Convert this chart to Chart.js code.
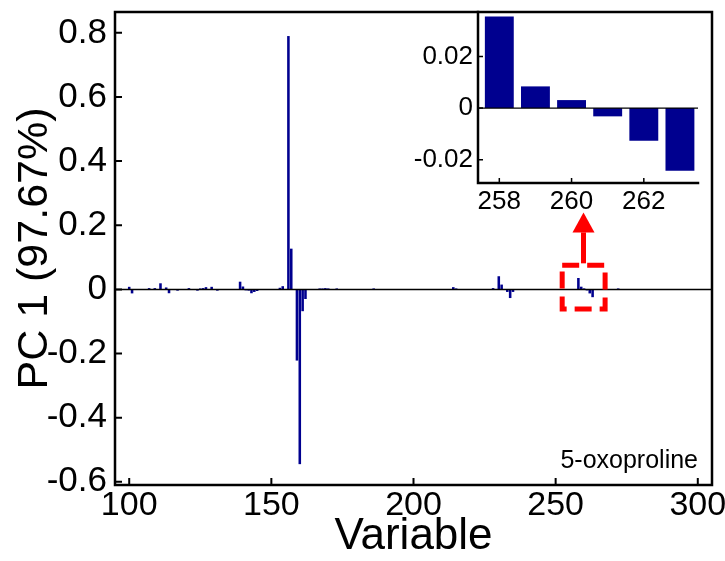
<!DOCTYPE html>
<html><head><meta charset="utf-8">
<script src="https://cdn.jsdelivr.net/npm/chart.js@4.4.0/dist/chart.umd.min.js"></script>
<style>
html,body{margin:0;padding:0;background:#fff;}
#wrap{position:relative;width:725px;height:561px;overflow:hidden;}
#main{position:absolute;left:0;top:0;}
#inset{position:absolute;left:400px;top:0;}
</style></head><body>
<div id="wrap"><canvas id="main" width="725" height="561"></canvas><canvas id="inset" width="312" height="215"></canvas></div>
<script>
// ---- data ----
const variables = [100,101,107,109,111,113,114,117,121,124,125,126,127,129,131,139,140,141,142,143,144,145,153,154,156,157,159,160,161,162,167,168,169,170,173,186,214,215,228,230,231,233,234,235,258,259,260,261,262,263,272];
const loadings  = [0.008,-0.0125,0.004,0.004,0.019,0.006,-0.012,-0.004,0.004,-0.004,0.003,0.004,0.007,0.008,-0.004,0.024,0.009,-0.003,-0.004,-0.012,-0.008,-0.005,0.005,0.01,0.79,0.127,-0.222,-0.545,-0.068,-0.03,0.003,0.003,0.004,0.003,0.003,0.003,0.007,0.003,0.004,0.041,0.015,-0.008,-0.027,-0.008,0.0355,0.0084,0.0031,-0.0032,-0.0126,-0.0243,0.003];
const xTicks = [100,150,200,250,300];
const yTicks = [-0.6,-0.4,-0.2,0,0.2,0.4,0.6,0.8];
const yTickLabels = ['-0.6','-0.4','-0.2','0','0.2','0.4','0.6','0.8'];
const insetVariables = [258,259,260,261,262,263];
const insetLoadings  = [0.0355,0.0084,0.0031,-0.0032,-0.0126,-0.0243];
const insetXTicks = [258,260,262];
const insetYTicks = [-0.02,0,0.02];
const insetYTickLabels = ['-0.02','0','0.02'];
const xTitle = 'Variable';
const yTitle = 'PC 1 (97.67%)';
const noteText = '5-oxoproline';
// highlighted region (data units) and arrow tip
const highlight = {x0:252.3, x1:267.4, y0:-0.061, y1:0.075, arrowX:259.8, arrowTipY:0.24};

const FONT = "'Liberation Sans', Arial, sans-serif";
const BAR = '#00008F';

const framePlugin = {
  id:'frame',
  afterDatasetsDraw(chart, args, o){
    const {ctx, chartArea:a, scales:{x,y}} = chart;
    ctx.save();
    const z = y.getPixelForValue(0);
    ctx.strokeStyle='#000'; ctx.lineWidth=o.zw;
    ctx.beginPath(); ctx.moveTo(a.left,z); ctx.lineTo(a.right,z); ctx.stroke();
    ctx.lineWidth=o.lw; ctx.lineCap='square';
    ctx.beginPath();
    if(o.box){ ctx.rect(a.left,a.top,a.right-a.left,a.bottom-a.top); }
    else { ctx.moveTo(a.left,a.top); ctx.lineTo(a.left,a.bottom); ctx.lineTo(a.right,a.bottom); }
    ctx.stroke();
    ctx.lineWidth=o.tw; ctx.lineCap='butt';
    ctx.beginPath();
    x.ticks.forEach(t=>{const p=x.getPixelForValue(t.value); ctx.moveTo(p,a.bottom); ctx.lineTo(p,a.bottom-o.len);});
    y.ticks.forEach(t=>{const p=y.getPixelForValue(t.value); ctx.moveTo(a.left,p); ctx.lineTo(a.left+o.len,p);});
    ctx.stroke();
    ctx.restore();
  }
};

const markPlugin = {
  id:'marks',
  afterDraw(chart){
    const {ctx, chartArea:a, scales:{x,y}} = chart;
    const h = highlight;
    const L=x.getPixelForValue(h.x0), R=x.getPixelForValue(h.x1);
    const T=y.getPixelForValue(h.y1), B=y.getPixelForValue(h.y0);
    ctx.save();
    ctx.strokeStyle='#FF0000'; ctx.fillStyle='#FF0000';
    ctx.lineWidth=5; ctx.setLineDash([17,8]); ctx.lineDashOffset=0;
    ctx.strokeRect(L,T,R-L,B-T);
    ctx.setLineDash([]);
    const ax=x.getPixelForValue(h.arrowX), tip=y.getPixelForValue(h.arrowTipY);
    const headBase = tip+20;
    ctx.beginPath(); ctx.moveTo(ax,T-2); ctx.lineTo(ax,headBase); ctx.stroke();
    ctx.beginPath(); ctx.moveTo(ax,tip); ctx.lineTo(ax-11,headBase); ctx.lineTo(ax+11,headBase); ctx.closePath(); ctx.fill();
    ctx.fillStyle='#000'; ctx.font='25px '+FONT; ctx.textAlign='right'; ctx.textBaseline='alphabetic';
    ctx.fillText(noteText, a.right-14, a.bottom-17);
    ctx.restore();
  }
};

new Chart(document.getElementById('main'), {
  type:'bar',
  data:{ datasets:[{ data: variables.map((v,i)=>({x:v,y:loadings[i]})), backgroundColor:BAR, borderWidth:0, barPercentage:0.9, categoryPercentage:1 }]},
  options:{
    responsive:false, animation:false, events:[],
    layout:{padding:{left:0,top:12,right:13,bottom:0}},
    plugins:{legend:{display:false}, tooltip:{enabled:false},
      frame:{box:true, lw:2.5, tw:2, len:7, zw:1.5}},
    scales:{
      x:{type:'linear', min:95, max:305, offset:false,
        grid:{display:false, drawTicks:false}, border:{display:false},
        afterBuildTicks:s=>{s.ticks = xTicks.map(v=>({value:v}));},
        afterFit:s=>{s.height=76; s.paddingLeft=0; s.paddingRight=0;},
        ticks:{color:'#000', font:{family:FONT,size:34}, padding:0, maxRotation:0, autoSkip:false, callback:v=>String(v)},
        title:{display:true, text:xTitle, color:'#000', font:{family:FONT,size:44,lineHeight:1}, padding:{top:0,bottom:2}}
      },
      y:{type:'linear', min:-0.61, max:0.865,
        grid:{display:false, drawTicks:false}, border:{display:false},
        afterBuildTicks:s=>{s.ticks = yTicks.map(v=>({value:v}));},
        afterFit:s=>{s.width=115; s.paddingTop=0; s.paddingBottom=0;},
        ticks:{color:'#000', font:{family:FONT,size:35}, padding:8, autoSkip:false, callback:(v,i)=>yTickLabels[i]},
        title:{display:true, text:yTitle, color:'#000', font:{family:FONT,size:43,lineHeight:1}, padding:{top:14,bottom:0}}
      }
    }
  },
  plugins:[framePlugin, markPlugin]
});

new Chart(document.getElementById('inset'), {
  type:'bar',
  data:{ datasets:[{ data: insetVariables.map((v,i)=>({x:v,y:insetLoadings[i]})), backgroundColor:BAR, borderWidth:0, barPercentage:0.8, categoryPercentage:1 }]},
  options:{
    responsive:false, animation:false, events:[],
    layout:{padding:{left:0,top:12,right:14,bottom:0}},
    plugins:{legend:{display:false}, tooltip:{enabled:false},
      frame:{box:false, lw:2.5, tw:1.5, len:5, zw:1.2}},
    scales:{
      x:{type:'linear', min:257.41, max:263.5, offset:false,
        grid:{display:false, drawTicks:false}, border:{display:false},
        afterBuildTicks:s=>{s.ticks = insetXTicks.map(v=>({value:v}));},
        afterFit:s=>{s.height=32; s.paddingLeft=0; s.paddingRight=0;},
        ticks:{color:'#000', font:{family:FONT,size:26}, padding:3, maxRotation:0, autoSkip:false, callback:v=>String(v)}
      },
      y:{type:'linear', min:-0.029, max:0.0372,
        grid:{display:false, drawTicks:false}, border:{display:false},
        afterBuildTicks:s=>{s.ticks = insetYTicks.map(v=>({value:v}));},
        afterFit:s=>{s.width=78; s.paddingTop=0; s.paddingBottom=0;},
        ticks:{color:'#000', font:{family:FONT,size:26}, padding:5, autoSkip:false, callback:(v,i)=>insetYTickLabels[i]}
      }
    }
  },
  plugins:[framePlugin]
});
</script>
</body></html>
